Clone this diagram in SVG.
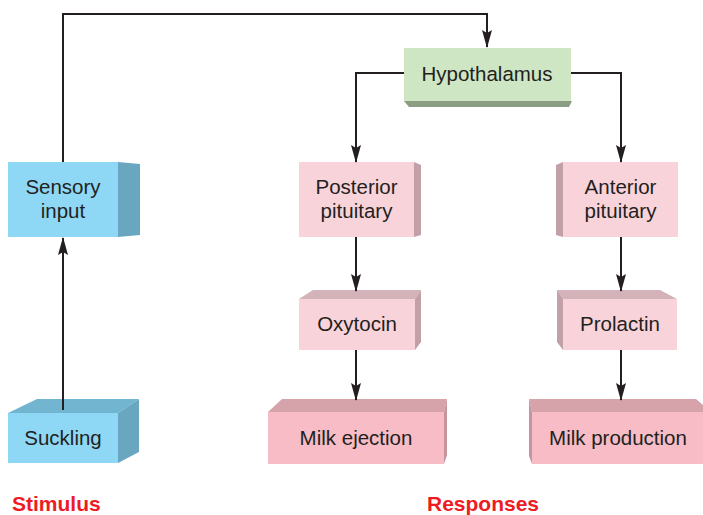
<svg xmlns="http://www.w3.org/2000/svg" width="703" height="515" viewBox="0 0 703 515">
<style>
.t{font-family:"Liberation Sans",Arial,sans-serif;font-size:20.5px;fill:#231f20;text-anchor:middle}
.lab{font-family:"Liberation Sans",Arial,sans-serif;font-size:21px;font-weight:bold;fill:#ed1c24}
.bf{fill:#8ed8f6}.bs{fill:#69a7c0}.bt{fill:#72b5d0}
.gf{fill:#cfe6c4}.gs{fill:#8b9d83}
.pf{fill:#f9d3da}.ps{fill:#c1a0a8}.pt{fill:#d4b2b9}
.mf{fill:#f7bcc5}.ms{fill:#c6949c}.mt{fill:#d6a3aa}
.c{fill:none;stroke:#231f20;stroke-width:2}
</style>
<defs>
<marker id="ah" markerWidth="18" markerHeight="10" refX="17" refY="5" orient="auto" markerUnits="userSpaceOnUse" viewBox="0 0 18 10">
<path d="M0,0 L18,5 L0,10 L3,5 z" fill="#231f20"/>
</marker>
</defs>
<rect width="703" height="515" fill="#fff"/>
<g id="sensory">
<polygon class="bs" points="118,162 140,164 140,235 118,237"/>
<rect class="bf" x="8" y="162" width="110" height="75"/>
<text class="t" x="63" y="194">Sensory</text>
<text class="t" x="63" y="218">input</text>
</g>
<g id="suckling">
<polygon class="bt" points="8,413 37,399 139,399 118,413"/>
<polygon class="bs" points="118,413 139,399 139,452 118,463"/>
<rect class="bf" x="8" y="413" width="110" height="50"/>
<text class="t" x="63" y="445">Suckling</text>
</g>
<g id="hypothalamus">
<polygon class="gs" points="404,101 572,101 569,107 409,107"/>
<rect class="gf" x="404" y="48" width="167" height="53"/>
<text class="t" x="487" y="81">Hypothalamus</text>
</g>
<g id="posterior">
<polygon class="ps" points="414,162 421,165 421,235 414,237"/>
<rect class="pf" x="299" y="162" width="115" height="75"/>
<text class="t" x="356.5" y="194">Posterior</text>
<text class="t" x="356.5" y="218">pituitary</text>
</g>
<g id="anterior">
<polygon class="ps" points="556,165 563,162 563,237 556,235"/>
<rect class="pf" x="563" y="162" width="115" height="75"/>
<text class="t" x="620.5" y="194">Anterior</text>
<text class="t" x="620.5" y="218">pituitary</text>
</g>
<g id="oxytocin">
<polygon class="pt" points="313,290 421,290 415,299 299,299"/>
<polygon class="ps" points="415,299 421,290 421,342 415,350"/>
<rect class="pf" x="299" y="299" width="116" height="51"/>
<text class="t" x="357" y="331">Oxytocin</text>
</g>
<g id="prolactin">
<polygon class="pt" points="557,290 660,290 677,299 563,299"/>
<polygon class="ps" points="557,290 563,299 563,350 557,342"/>
<rect class="pf" x="563" y="299" width="114" height="51"/>
<text class="t" x="620" y="331">Prolactin</text>
</g>
<g id="ejection">
<polygon class="mt" points="282,399 447,399 444,412 268,412"/>
<polygon class="ms" points="444,412 447,399 447,455 444,464"/>
<rect class="mf" x="268" y="412" width="176" height="52"/>
<text class="t" x="356" y="445">Milk ejection</text>
</g>
<g id="production">
<polygon class="mt" points="529,399 696,399 703,405 703,412 532,412"/>
<polygon class="ms" points="529,399 532,412 532,464 529,456"/>
<rect class="mf" x="532" y="412" width="171" height="52"/>
<text class="t" x="618" y="445">Milk production</text>
</g>
<g id="connectors">
<path class="c" d="M63,410 V238" marker-end="url(#ah)"/>
<path class="c" d="M63,162 V14 H487 V47" marker-end="url(#ah)"/>
<path class="c" d="M404,73 H356 V162" marker-end="url(#ah)"/>
<path class="c" d="M571,73 H621 V162" marker-end="url(#ah)"/>
<path class="c" d="M356,237 V291" marker-end="url(#ah)"/>
<path class="c" d="M356,350 V400" marker-end="url(#ah)"/>
<path class="c" d="M621,237 V291" marker-end="url(#ah)"/>
<path class="c" d="M621,350 V400" marker-end="url(#ah)"/>
</g>
<text class="lab" x="12" y="511">Stimulus</text>
<text class="lab" x="483" y="511" text-anchor="middle">Responses</text>
</svg>
